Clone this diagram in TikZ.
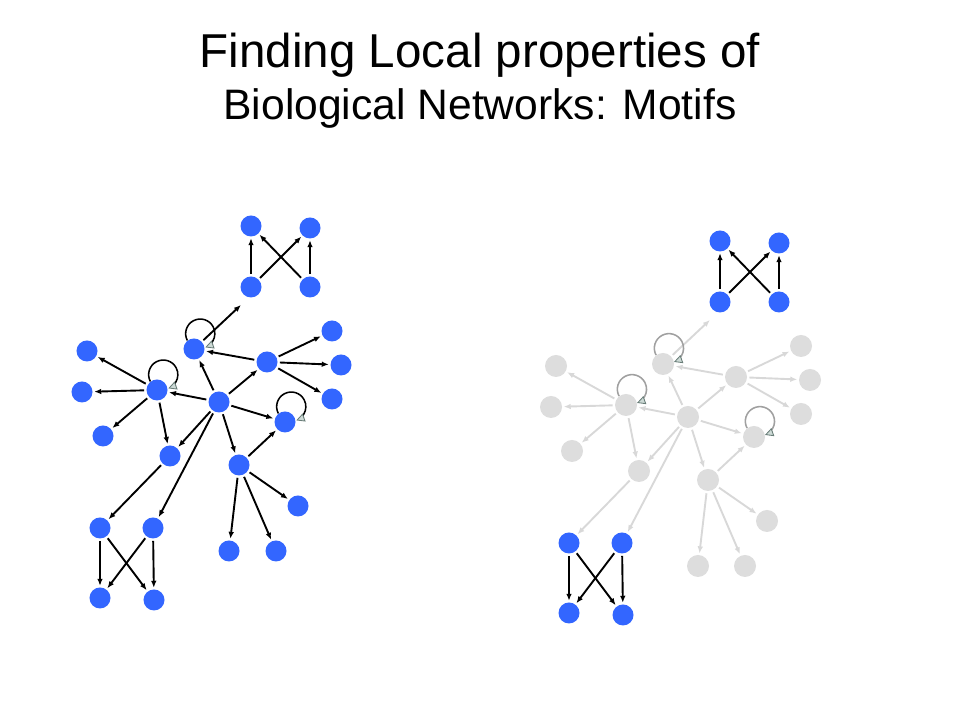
\documentclass[tikz,border=0pt]{standalone}
\usepackage{fontspec}
\setmainfont{Liberation Sans}
\usetikzlibrary{arrows.meta}

\definecolor{netblue}{RGB}{51,102,255}
\definecolor{netgrey}{RGB}{221,221,221}
\definecolor{edgegrey}{RGB}{216,216,216}
\definecolor{loopgrey}{RGB}{160,160,160}
\definecolor{tipline}{RGB}{105,125,120}
\definecolor{tipfill}{RGB}{205,218,214}

\tikzset{
  dot/.style={circle, inner sep=0pt, minimum size=0.525cm, fill=netblue},
  greydot/.style={circle, inner sep=0pt, minimum size=0.55cm, fill=netgrey},
  link/.style={-{Latex[length=5pt,width=4pt]}, line width=1.35pt, black, shorten >=1pt, shorten <=1.5pt},
  greylink/.style={link, edgegrey},
  selfloop/.style={-{Triangle[length=6pt,width=6pt,fill=tipfill,color=tipline,line width=0.6pt]}, line width=1.1pt}
}

% one copy of the network: #1 prefix, #2 node style, #3 arrow style, #4 loop colour
\newcommand{\network}[4]{%
  % motifs
  \foreach \n/\x/\y in {tTL/251/494, tTR/310/492, tBL/251/433, tBR/310/433,
                        bTL/100/192, bTR/153/192, bBL/100/122, bBR/154/120}
    \node[dot] (#1\n) at (\x,\y) {};
  % rest of the net
  \foreach \n/\x/\y in {A/194/371, B/267/358, H/219/318, D/157/330, E/285/298,
                        F/170/264, G/239/255, C1/332/389, C2/341/355, C3/332/321,
                        L1/87/369, L2/82/328, L3/103/284, G1/229/169, G2/276/169, G3/298/214}
    \node[#2] (#1\n) at (\x,\y) {};
  \coordinate (#1free) at (242,416);
  % arrows
  \foreach \s/\t in {tBL/tTL, tBL/tTR, tBR/tTL, tBR/tTR, bTL/bBL, bTL/bBR, bTR/bBL, bTR/bBR}
    \draw[link] (#1\s) -- (#1\t);
  \foreach \s/\t in {A/free, B/A, H/A, H/B, B/C1, B/C2, B/C3, H/D, H/E, H/F, H/G, H/bTR,
                     D/L1, D/L2, D/L3, D/F, F/bTL, G/E, G/G1, G/G2, G/G3}
    \draw[#3] (#1\s) -- (#1\t);
  % self loops
  \foreach \n in {A, D, E}
    \draw[selfloop, #4] (#1\n.128) arc[start angle=208, end angle=-70, radius=0.365cm];
}

\begin{document}
\begin{tikzpicture}[x=0.025cm, y=0.025cm]
\useasboundingbox (0,0) rectangle (960,720);

% title
\node[anchor=base, font=\fontsize{33.8}{40}\selectfont] (title) at (480,652) {Finding Local properties of};
\node[anchor=base, font=\fontsize{30.3}{36}\selectfont] (subtitle) at (480,600) {Biological Networks: Motifs};

% whole network
\network{l}{dot}{link}{black}

% same network, motifs picked out
\begin{scope}[shift={(469,-15)}]
\network{r}{greydot}{greylink}{loopgrey}
\end{scope}

\end{tikzpicture}
\end{document}
